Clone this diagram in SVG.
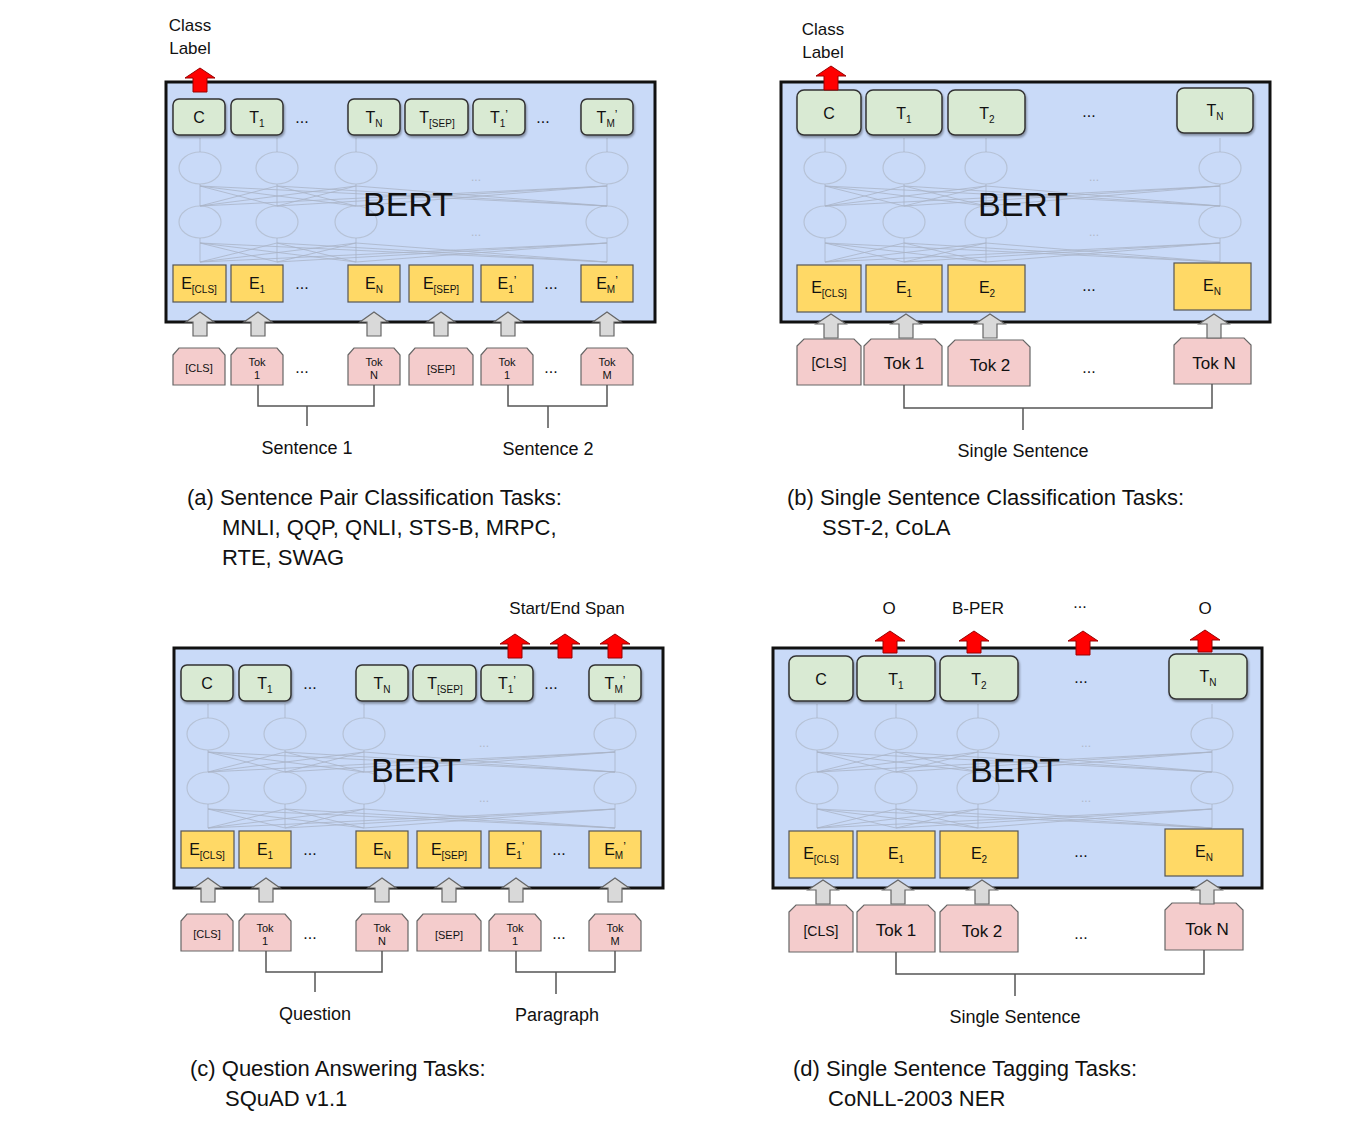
<svg xmlns="http://www.w3.org/2000/svg" width="1367" height="1134" viewBox="0 0 1367 1134">
<style>
text{font-family:"Liberation Sans",Arial,sans-serif;fill:#111}
.box{fill:#c9daf8;stroke:#111;stroke-width:3}
.t{fill:#d9ead3;stroke:#333;stroke-width:1.5}
.e{fill:#ffd966;stroke:#555;stroke-width:1.2}
.k{fill:#f4cccc;stroke:#666;stroke-width:1.2}
.g{fill:#d9d9d9;stroke:#666;stroke-width:1.2}
.r{fill:#ff0000;stroke:#990000;stroke-width:1}
.br{fill:none;stroke:#555;stroke-width:1.5}
.nc{fill:none;stroke:#b6c2d6;stroke-width:1.2}
.nl{stroke:#aab4c6;stroke-width:0.8;fill:none}
.m{font-size:16px;text-anchor:middle}
.s{font-size:11px;text-anchor:middle}
.L{font-size:17px;text-anchor:middle}
.bert{font-size:34px;text-anchor:middle}
.cap{font-size:22px}
.lab{font-size:18px}
.dots{font-size:16px;text-anchor:middle}
.fd{font-size:12px;text-anchor:middle;fill:#b0b8c8}
</style>
<defs>
<filter id="sh" x="-10%" y="-10%" width="130%" height="140%"><feDropShadow dx="1" dy="2" stdDeviation="1.2" flood-opacity="0.35"/></filter>
</defs>

<!-- ============ Panel A ============ -->
<g id="panelA">
<g id="a-box"><rect class="box" x="166" y="82" width="489" height="240"/></g>
<g id="a-net">
<ellipse class="nc" cx="200" cy="168" rx="21" ry="16"/><ellipse class="nc" cx="277" cy="168" rx="21" ry="16"/><ellipse class="nc" cx="356" cy="168" rx="21" ry="16"/><ellipse class="nc" cx="607" cy="168" rx="21" ry="16"/>
<ellipse class="nc" cx="200" cy="222" rx="21" ry="16"/><ellipse class="nc" cx="277" cy="222" rx="21" ry="16"/><ellipse class="nc" cx="356" cy="222" rx="21" ry="16"/><ellipse class="nc" cx="607" cy="222" rx="21" ry="16"/>
<path class="nl" d="M200 262V238M277 262V238M356 262V238M607 262V238M200 206V184M277 206V184M356 206V184M607 206V184M200 152V138M277 152V138M356 152V138M607 152V138"/>
<path class="nl" d="M200 262L277 243M200 262L356 243M200 262L607 243M277 262L200 243M277 262L356 243M277 262L607 243M356 262L200 243M356 262L277 243M356 262L607 243M607 262L200 243M607 262L277 243M607 262L356 243"/>
<path class="nl" d="M200 206L277 186M200 206L356 186M200 206L607 186M277 206L200 186M277 206L356 186M277 206L607 186M356 206L200 186M356 206L277 186M356 206L607 186M607 206L200 186M607 206L277 186M607 206L356 186"/>
<text class="fd" x="476" y="181">...</text><text class="fd" x="476" y="236">...</text>
</g>
<g id="a-bert"><text class="bert" x="408" y="216">BERT</text></g>
<g id="a-C"><rect class="t" filter="url(#sh)" x="173" y="99" width="52" height="36" rx="6"/><text class="m" x="199" y="123">C</text></g>
<g id="a-T1"><rect class="t" filter="url(#sh)" x="231" y="99" width="52" height="36" rx="6"/><text class="m" x="257" y="123">T<tspan font-size="10" dy="4">1</tspan></text></g>
<g id="a-tdots1"><text class="dots" x="302" y="123">...</text></g>
<g id="a-TN"><rect class="t" filter="url(#sh)" x="348" y="99" width="52" height="36" rx="6"/><text class="m" x="374" y="123">T<tspan font-size="10" dy="4">N</tspan></text></g>
<g id="a-TSEP"><rect class="t" filter="url(#sh)" x="405" y="99" width="63" height="36" rx="6"/><text class="m" x="437" y="123">T<tspan font-size="10" dy="4">[SEP]</tspan></text></g>
<g id="a-T1p"><rect class="t" filter="url(#sh)" x="473" y="99" width="52" height="36" rx="6"/><text class="m" x="499" y="123">T<tspan font-size="10" dy="4">1</tspan><tspan dy="-8" font-size="12">’</tspan></text></g>
<g id="a-tdots2"><text class="dots" x="543" y="123">...</text></g>
<g id="a-TMp"><rect class="t" filter="url(#sh)" x="581" y="99" width="52" height="36" rx="6"/><text class="m" x="607" y="123">T<tspan font-size="10" dy="4">M</tspan><tspan dy="-8" font-size="12">’</tspan></text></g>

<g id="a-ECLS"><rect class="e" x="173" y="265" width="53" height="37"/><text class="m" x="199" y="289">E<tspan font-size="10" dy="4">[CLS]</tspan></text></g>
<g id="a-E1"><rect class="e" x="231" y="265" width="52" height="37"/><text class="m" x="257" y="289">E<tspan font-size="10" dy="4">1</tspan></text></g>
<g id="a-edots1"><text class="dots" x="302" y="289">...</text></g>
<g id="a-EN"><rect class="e" x="348" y="265" width="52" height="37"/><text class="m" x="374" y="289">E<tspan font-size="10" dy="4">N</tspan></text></g>
<g id="a-ESEP"><rect class="e" x="409" y="265" width="64" height="37"/><text class="m" x="441" y="289">E<tspan font-size="10" dy="4">[SEP]</tspan></text></g>
<g id="a-E1p"><rect class="e" x="481" y="265" width="52" height="37"/><text class="m" x="507" y="289">E<tspan font-size="10" dy="4">1</tspan><tspan dy="-8" font-size="12">’</tspan></text></g>
<g id="a-edots2"><text class="dots" x="551" y="289">...</text></g>
<g id="a-EMp"><rect class="e" x="581" y="265" width="52" height="37"/><text class="m" x="607" y="289">E<tspan font-size="10" dy="4">M</tspan><tspan dy="-8" font-size="12">’</tspan></text></g>

<g id="a-kCLS"><polygon class="k" points="173,355 179,348 219,348 225,355 225,385 173,385"/><text class="s" x="199" y="372">[CLS]</text></g>
<g id="a-k1"><polygon class="k" points="231,355 237,348 277,348 283,355 283,385 231,385"/><text class="s" x="257" y="366">Tok</text><text class="s" x="257" y="379">1</text></g>
<g id="a-kdots1"><text class="dots" x="302" y="373">...</text></g>
<g id="a-kN"><polygon class="k" points="348,355 354,348 394,348 400,355 400,385 348,385"/><text class="s" x="374" y="366">Tok</text><text class="s" x="374" y="379">N</text></g>
<g id="a-kSEP"><polygon class="k" points="409,355 415,348 467,348 473,355 473,385 409,385"/><text class="s" x="441" y="373">[SEP]</text></g>
<g id="a-k1p"><polygon class="k" points="481,355 487,348 527,348 533,355 533,385 481,385"/><text class="s" x="507" y="366">Tok</text><text class="s" x="507" y="379">1</text></g>
<g id="a-kdots2"><text class="dots" x="551" y="373">...</text></g>
<g id="a-kM"><polygon class="k" points="581,355 587,348 627,348 633,355 633,385 581,385"/><text class="s" x="607" y="366">Tok</text><text class="s" x="607" y="379">M</text></g>

<g id="a-classlabel"><text class="L" x="190" y="31">Class</text><text class="L" x="190" y="54">Label</text></g>
<g id="a-labels"><text class="lab" x="307" y="454" text-anchor="middle">Sentence 1</text><text class="lab" x="548" y="455" text-anchor="middle">Sentence 2</text></g>
<g id="a-caption"><text class="cap" x="187" y="505">(a) Sentence Pair Classification Tasks:</text><text class="cap" x="222" y="535">MNLI, QQP, QNLI, STS-B, MRPC,</text><text class="cap" x="222" y="565">RTE, SWAG</text></g>
</g>

<!-- ============ Panel B ============ -->
<g id="panelB">
<g id="b-box"><rect class="box" x="781" y="82" width="489" height="240"/></g>
<g id="b-net">
<ellipse class="nc" cx="825" cy="168" rx="21" ry="16"/><ellipse class="nc" cx="904" cy="168" rx="21" ry="16"/><ellipse class="nc" cx="986" cy="168" rx="21" ry="16"/><ellipse class="nc" cx="1220" cy="168" rx="21" ry="16"/>
<ellipse class="nc" cx="825" cy="222" rx="21" ry="16"/><ellipse class="nc" cx="904" cy="222" rx="21" ry="16"/><ellipse class="nc" cx="986" cy="222" rx="21" ry="16"/><ellipse class="nc" cx="1220" cy="222" rx="21" ry="16"/>
<path class="nl" d="M825 262V238M904 262V238M986 262V238M1220 262V238M825 206V184M904 206V184M986 206V184M1220 206V184M825 152V138M904 152V138M986 152V138M1220 152V138"/>
<path class="nl" d="M825 262L904 243M825 262L986 243M825 262L1220 243M904 262L825 243M904 262L986 243M904 262L1220 243M986 262L825 243M986 262L904 243M986 262L1220 243M1220 262L825 243M1220 262L904 243M1220 262L986 243"/>
<path class="nl" d="M825 206L904 186M825 206L986 186M825 206L1220 186M904 206L825 186M904 206L986 186M904 206L1220 186M986 206L825 186M986 206L904 186M986 206L1220 186M1220 206L825 186M1220 206L904 186M1220 206L986 186"/>
<text class="fd" x="1094" y="181">...</text><text class="fd" x="1094" y="236">...</text>
</g>
<g id="b-bert"><text class="bert" x="1023" y="216">BERT</text></g>
<g id="b-C"><rect class="t" filter="url(#sh)" x="797" y="90" width="64" height="45" rx="7"/><text class="m" x="829" y="119">C</text></g>
<g id="b-T1"><rect class="t" filter="url(#sh)" x="866" y="90" width="76" height="45" rx="7"/><text class="m" x="904" y="119">T<tspan font-size="10" dy="4">1</tspan></text></g>
<g id="b-T2"><rect class="t" filter="url(#sh)" x="948" y="90" width="77" height="45" rx="7"/><text class="m" x="987" y="119">T<tspan font-size="10" dy="4">2</tspan></text></g>
<g id="b-tdots"><text class="dots" x="1089" y="117">...</text></g>
<g id="b-TN"><rect class="t" filter="url(#sh)" x="1177" y="88" width="76" height="45" rx="7"/><text class="m" x="1215" y="116">T<tspan font-size="10" dy="4">N</tspan></text></g>
<g id="b-ECLS"><rect class="e" x="797" y="265" width="64" height="47"/><text class="m" x="829" y="293">E<tspan font-size="10" dy="4">[CLS]</tspan></text></g>
<g id="b-E1"><rect class="e" x="866" y="265" width="76" height="47"/><text class="m" x="904" y="293">E<tspan font-size="10" dy="4">1</tspan></text></g>
<g id="b-E2"><rect class="e" x="948" y="265" width="77" height="47"/><text class="m" x="987" y="293">E<tspan font-size="10" dy="4">2</tspan></text></g>
<g id="b-edots"><text class="dots" x="1089" y="291">...</text></g>
<g id="b-EN"><rect class="e" x="1174" y="263" width="77" height="47"/><text class="m" x="1212" y="291">E<tspan font-size="10" dy="4">N</tspan></text></g>
<g id="b-kCLS"><polygon class="k" points="797,346 804,339 854,339 861,346 861,385 797,385"/><text x="829" y="368" font-size="14" text-anchor="middle">[CLS]</text></g>
<g id="b-k1"><polygon class="k" points="864,346 871,339 935,339 942,346 942,385 864,385"/><text class="L" x="904" y="369">Tok 1</text></g>
<g id="b-k2"><polygon class="k" points="948,347 955,340 1023,340 1030,347 1030,386 948,386"/><text class="L" x="990" y="371">Tok 2</text></g>
<g id="b-kdots"><text class="dots" x="1089" y="373">...</text></g>
<g id="b-kN"><polygon class="k" points="1174,345 1181,338 1244,338 1251,345 1251,384 1174,384"/><text class="L" x="1214" y="369">Tok N</text></g>
<g id="b-classlabel"><text class="L" x="823" y="35">Class</text><text class="L" x="823" y="58">Label</text></g>
<g id="b-labels"><text class="lab" x="1023" y="457" text-anchor="middle">Single Sentence</text></g>
<g id="b-caption"><text class="cap" x="787" y="505">(b) Single Sentence Classification Tasks:</text><text class="cap" x="822" y="535">SST-2, CoLA</text></g>
</g>

<!-- ============ Panel C ============ -->
<g id="panelC" transform="translate(8,566)">
<g id="c-box"><rect class="box" x="166" y="82" width="489" height="240"/></g>
<g id="c-net">
<ellipse class="nc" cx="200" cy="168" rx="21" ry="16"/><ellipse class="nc" cx="277" cy="168" rx="21" ry="16"/><ellipse class="nc" cx="356" cy="168" rx="21" ry="16"/><ellipse class="nc" cx="607" cy="168" rx="21" ry="16"/>
<ellipse class="nc" cx="200" cy="222" rx="21" ry="16"/><ellipse class="nc" cx="277" cy="222" rx="21" ry="16"/><ellipse class="nc" cx="356" cy="222" rx="21" ry="16"/><ellipse class="nc" cx="607" cy="222" rx="21" ry="16"/>
<path class="nl" d="M200 262V238M277 262V238M356 262V238M607 262V238M200 206V184M277 206V184M356 206V184M607 206V184M200 152V138M277 152V138M356 152V138M607 152V138"/>
<path class="nl" d="M200 262L277 243M200 262L356 243M200 262L607 243M277 262L200 243M277 262L356 243M277 262L607 243M356 262L200 243M356 262L277 243M356 262L607 243M607 262L200 243M607 262L277 243M607 262L356 243"/>
<path class="nl" d="M200 206L277 186M200 206L356 186M200 206L607 186M277 206L200 186M277 206L356 186M277 206L607 186M356 206L200 186M356 206L277 186M356 206L607 186M607 206L200 186M607 206L277 186M607 206L356 186"/>
<text class="fd" x="476" y="181">...</text><text class="fd" x="476" y="236">...</text>
</g>
<g id="c-bert"><text class="bert" x="408" y="216">BERT</text></g>
<g id="c-C"><rect class="t" filter="url(#sh)" x="173" y="99" width="52" height="36" rx="6"/><text class="m" x="199" y="123">C</text></g>
<g id="c-T1"><rect class="t" filter="url(#sh)" x="231" y="99" width="52" height="36" rx="6"/><text class="m" x="257" y="123">T<tspan font-size="10" dy="4">1</tspan></text></g>
<g id="c-tdots1"><text class="dots" x="302" y="123">...</text></g>
<g id="c-TN"><rect class="t" filter="url(#sh)" x="348" y="99" width="52" height="36" rx="6"/><text class="m" x="374" y="123">T<tspan font-size="10" dy="4">N</tspan></text></g>
<g id="c-TSEP"><rect class="t" filter="url(#sh)" x="405" y="99" width="63" height="36" rx="6"/><text class="m" x="437" y="123">T<tspan font-size="10" dy="4">[SEP]</tspan></text></g>
<g id="c-T1p"><rect class="t" filter="url(#sh)" x="473" y="99" width="52" height="36" rx="6"/><text class="m" x="499" y="123">T<tspan font-size="10" dy="4">1</tspan><tspan dy="-8" font-size="12">’</tspan></text></g>
<g id="c-tdots2"><text class="dots" x="543" y="123">...</text></g>
<g id="c-TMp"><rect class="t" filter="url(#sh)" x="581" y="99" width="52" height="36" rx="6"/><text class="m" x="607" y="123">T<tspan font-size="10" dy="4">M</tspan><tspan dy="-8" font-size="12">’</tspan></text></g>
<g id="c-ECLS"><rect class="e" x="173" y="265" width="53" height="37"/><text class="m" x="199" y="289">E<tspan font-size="10" dy="4">[CLS]</tspan></text></g>
<g id="c-E1"><rect class="e" x="231" y="265" width="52" height="37"/><text class="m" x="257" y="289">E<tspan font-size="10" dy="4">1</tspan></text></g>
<g id="c-edots1"><text class="dots" x="302" y="289">...</text></g>
<g id="c-EN"><rect class="e" x="348" y="265" width="52" height="37"/><text class="m" x="374" y="289">E<tspan font-size="10" dy="4">N</tspan></text></g>
<g id="c-ESEP"><rect class="e" x="409" y="265" width="64" height="37"/><text class="m" x="441" y="289">E<tspan font-size="10" dy="4">[SEP]</tspan></text></g>
<g id="c-E1p"><rect class="e" x="481" y="265" width="52" height="37"/><text class="m" x="507" y="289">E<tspan font-size="10" dy="4">1</tspan><tspan dy="-8" font-size="12">’</tspan></text></g>
<g id="c-edots2"><text class="dots" x="551" y="289">...</text></g>
<g id="c-EMp"><rect class="e" x="581" y="265" width="52" height="37"/><text class="m" x="607" y="289">E<tspan font-size="10" dy="4">M</tspan><tspan dy="-8" font-size="12">’</tspan></text></g>
<g id="c-kCLS"><polygon class="k" points="173,355 179,348 219,348 225,355 225,385 173,385"/><text class="s" x="199" y="372">[CLS]</text></g>
<g id="c-k1"><polygon class="k" points="231,355 237,348 277,348 283,355 283,385 231,385"/><text class="s" x="257" y="366">Tok</text><text class="s" x="257" y="379">1</text></g>
<g id="c-kdots1"><text class="dots" x="302" y="373">...</text></g>
<g id="c-kN"><polygon class="k" points="348,355 354,348 394,348 400,355 400,385 348,385"/><text class="s" x="374" y="366">Tok</text><text class="s" x="374" y="379">N</text></g>
<g id="c-kSEP"><polygon class="k" points="409,355 415,348 467,348 473,355 473,385 409,385"/><text class="s" x="441" y="373">[SEP]</text></g>
<g id="c-k1p"><polygon class="k" points="481,355 487,348 527,348 533,355 533,385 481,385"/><text class="s" x="507" y="366">Tok</text><text class="s" x="507" y="379">1</text></g>
<g id="c-kdots2"><text class="dots" x="551" y="373">...</text></g>
<g id="c-kM"><polygon class="k" points="581,355 587,348 627,348 633,355 633,385 581,385"/><text class="s" x="607" y="366">Tok</text><text class="s" x="607" y="379">M</text></g>
<g id="c-span"><text class="L" x="559" y="48">Start/End Span</text></g>
<g id="c-labels"><text class="lab" x="307" y="454" text-anchor="middle">Question</text><text class="lab" x="549" y="455" text-anchor="middle">Paragraph</text></g>
<g id="c-caption"><text class="cap" x="182" y="510">(c) Question Answering Tasks:</text><text class="cap" x="217" y="540">SQuAD v1.1</text></g>
</g>

<!-- ============ Panel D ============ -->
<g id="panelD" transform="translate(-8,566)">
<g id="d-box"><rect class="box" x="781" y="82" width="489" height="240"/></g>
<g id="d-net">
<ellipse class="nc" cx="825" cy="168" rx="21" ry="16"/><ellipse class="nc" cx="904" cy="168" rx="21" ry="16"/><ellipse class="nc" cx="986" cy="168" rx="21" ry="16"/><ellipse class="nc" cx="1220" cy="168" rx="21" ry="16"/>
<ellipse class="nc" cx="825" cy="222" rx="21" ry="16"/><ellipse class="nc" cx="904" cy="222" rx="21" ry="16"/><ellipse class="nc" cx="986" cy="222" rx="21" ry="16"/><ellipse class="nc" cx="1220" cy="222" rx="21" ry="16"/>
<path class="nl" d="M825 262V238M904 262V238M986 262V238M1220 262V238M825 206V184M904 206V184M986 206V184M1220 206V184M825 152V138M904 152V138M986 152V138M1220 152V138"/>
<path class="nl" d="M825 262L904 243M825 262L986 243M825 262L1220 243M904 262L825 243M904 262L986 243M904 262L1220 243M986 262L825 243M986 262L904 243M986 262L1220 243M1220 262L825 243M1220 262L904 243M1220 262L986 243"/>
<path class="nl" d="M825 206L904 186M825 206L986 186M825 206L1220 186M904 206L825 186M904 206L986 186M904 206L1220 186M986 206L825 186M986 206L904 186M986 206L1220 186M1220 206L825 186M1220 206L904 186M1220 206L986 186"/>
<text class="fd" x="1094" y="181">...</text><text class="fd" x="1094" y="236">...</text>
</g>
<g id="d-bert"><text class="bert" x="1023" y="216">BERT</text></g>
<g id="d-C"><rect class="t" filter="url(#sh)" x="797" y="90" width="64" height="45" rx="7"/><text class="m" x="829" y="119">C</text></g>
<g id="d-T1"><rect class="t" filter="url(#sh)" x="865" y="90" width="78" height="45" rx="7"/><text class="m" x="904" y="119">T<tspan font-size="10" dy="4">1</tspan></text></g>
<g id="d-T2"><rect class="t" filter="url(#sh)" x="948" y="90" width="78" height="45" rx="7"/><text class="m" x="987" y="119">T<tspan font-size="10" dy="4">2</tspan></text></g>
<g id="d-tdots"><text class="dots" x="1089" y="117">...</text></g>
<g id="d-TN"><rect class="t" filter="url(#sh)" x="1177" y="88" width="78" height="45" rx="7"/><text class="m" x="1216" y="116">T<tspan font-size="10" dy="4">N</tspan></text></g>
<g id="d-ECLS"><rect class="e" x="797" y="265" width="64" height="47"/><text class="m" x="829" y="293">E<tspan font-size="10" dy="4">[CLS]</tspan></text></g>
<g id="d-E1"><rect class="e" x="865" y="265" width="78" height="47"/><text class="m" x="904" y="293">E<tspan font-size="10" dy="4">1</tspan></text></g>
<g id="d-E2"><rect class="e" x="948" y="265" width="78" height="47"/><text class="m" x="987" y="293">E<tspan font-size="10" dy="4">2</tspan></text></g>
<g id="d-edots"><text class="dots" x="1089" y="291">...</text></g>
<g id="d-EN"><rect class="e" x="1173" y="263" width="78" height="47"/><text class="m" x="1212" y="291">E<tspan font-size="10" dy="4">N</tspan></text></g>
<g id="d-kCLS"><polygon class="k" points="797,346 804,339 854,339 861,346 861,386 797,386"/><text x="829" y="370" font-size="14" text-anchor="middle">[CLS]</text></g>
<g id="d-k1"><polygon class="k" points="865,346 872,339 936,339 943,346 943,386 865,386"/><text class="L" x="904" y="370">Tok 1</text></g>
<g id="d-k2"><polygon class="k" points="948,346 955,339 1019,339 1026,346 1026,386 948,386"/><text class="L" x="990" y="371">Tok 2</text></g>
<g id="d-kdots"><text class="dots" x="1089" y="373">...</text></g>
<g id="d-kN"><polygon class="k" points="1173,344 1180,337 1244,337 1251,344 1251,384 1173,384"/><text class="L" x="1215" y="369">Tok N</text></g>
<g id="d-tags"><text class="L" x="897" y="48">O</text><text class="L" x="986" y="48">B-PER</text><text class="dots" x="1088" y="42">...</text><text class="L" x="1213" y="48">O</text></g>
<g id="d-labels"><text class="lab" x="1023" y="457" text-anchor="middle">Single Sentence</text></g>
<g id="d-caption"><text class="cap" x="801" y="510">(d) Single Sentence Tagging Tasks:</text><text class="cap" x="836" y="540">CoNLL-2003 NER</text></g>
</g>

<!-- ============ Connectors ============ -->
<g id="connectors">
<!-- gray input arrows (a) -->
<g class="g">
<path d="M200 312l14 10h-7v14h-14v-14h-7z"/><path d="M258 312l14 10h-7v14h-14v-14h-7z"/><path d="M374 312l14 10h-7v14h-14v-14h-7z"/><path d="M441 312l14 10h-7v14h-14v-14h-7z"/><path d="M508 312l14 10h-7v14h-14v-14h-7z"/><path d="M607 312l14 10h-7v14h-14v-14h-7z"/>
<path d="M831 314l15 10h-8v14h-14v-14h-8z"/><path d="M906 314l15 10h-8v14h-14v-14h-8z"/><path d="M990 314l15 10h-8v14h-14v-14h-8z"/><path d="M1214 314l15 10h-8v14h-14v-14h-8z"/>
<path d="M208 878l14 10h-7v14h-14v-14h-7z"/><path d="M266 878l14 10h-7v14h-14v-14h-7z"/><path d="M382 878l14 10h-7v14h-14v-14h-7z"/><path d="M449 878l14 10h-7v14h-14v-14h-7z"/><path d="M516 878l14 10h-7v14h-14v-14h-7z"/><path d="M615 878l14 10h-7v14h-14v-14h-7z"/>
<path d="M823 880l15 10h-8v14h-14v-14h-8z"/><path d="M898 880l15 10h-8v14h-14v-14h-8z"/><path d="M982 880l15 10h-8v14h-14v-14h-8z"/><path d="M1207 880l15 10h-8v14h-14v-14h-8z"/>
</g>
<!-- red output arrows -->
<g class="r">
<path d="M200 68l15 10h-8v14h-14v-14h-8z"/>
<path d="M831 66l15 10h-8v14h-14v-14h-8z"/>
<path d="M515 634l15 10h-8v14h-14v-14h-8z"/><path d="M565 634l15 10h-8v14h-14v-14h-8z"/><path d="M615 634l15 10h-8v14h-14v-14h-8z"/>
<path d="M890 631l15 10h-8v12h-14v-12h-8z"/><path d="M974 631l15 10h-8v12h-14v-12h-8z"/><path d="M1083 631l15 10h-8v14h-14v-14h-8z"/><path d="M1205 630l15 10h-8v12h-14v-12h-8z"/>
</g>
<!-- brackets -->
<path class="br" d="M258 385V406H374V385M307 406V426M508 385V406H607V385M548 406V428"/>
<path class="br" d="M904 385V408H1212V384M1023 408V430"/>
<path class="br" d="M266 951V972H382V951M315 972V992M516 951V972H615V951M556 972V994"/>
<path class="br" d="M896 952V974H1204V950M1015 974V996"/>
</g>
</svg>
